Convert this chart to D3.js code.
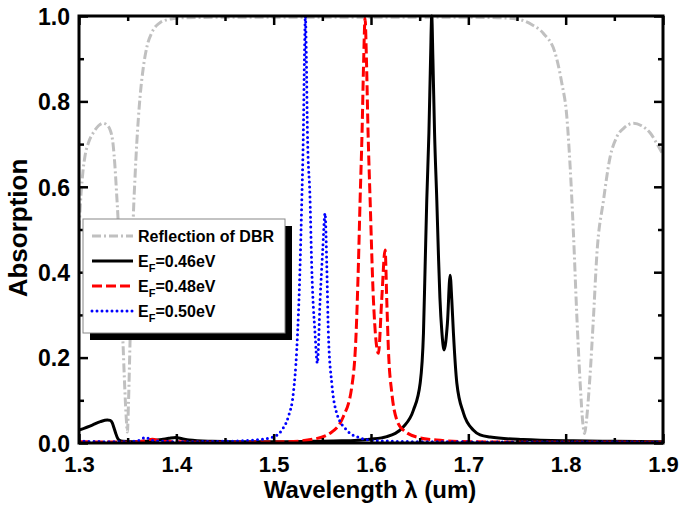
<!DOCTYPE html>
<html><head><meta charset="utf-8">
<script src="https://cdn.jsdelivr.net/npm/d3@7/dist/d3.min.js"></script>
<style>body{margin:0;background:#fff}svg{display:block}text{font-family:"Liberation Sans",Arial,sans-serif;font-weight:bold}</style>
</head><body><svg id="c" width="686" height="511"></svg>
<script>
// ---------- data ----------
const dbrWl = [1.300,1.302,1.304,1.306,1.310,1.3145,1.320,1.3247,1.328,1.332,1.335,1.337,1.3385,1.340,1.342,1.3435,1.3452,1.347,1.3485,1.3497,1.3508,1.3524,1.354,1.3558,1.3575,1.3593,1.361,1.3627,1.3661,1.370,1.375,1.383,1.390,1.397,1.410,1.450,1.500,1.550,1.600,1.650,1.700,1.730,1.7498,1.765,1.7772,1.7892,1.7961,1.8012,1.8046,1.808,1.8115,1.8149,1.8176,1.8195,1.8211,1.8245,1.8286,1.832,1.8389,1.8457,1.8526,1.860,1.8697,1.878,1.8869,1.894,1.900];
const dbrR  = [0.50,0.58,0.635,0.67,0.705,0.726,0.743,0.749,0.746,0.733,0.70,0.646,0.59,0.53,0.42,0.33,0.234,0.13,0.06,0.026,0.09,0.234,0.38,0.53,0.62,0.70,0.76,0.81,0.88,0.93,0.962,0.984,0.991,0.994,0.996,0.997,0.997,0.997,0.997,0.997,0.997,0.996,0.993,0.98,0.959,0.913,0.842,0.764,0.647,0.49,0.296,0.14,0.047,0.022,0.047,0.14,0.296,0.44,0.569,0.67,0.717,0.738,0.749,0.743,0.726,0.70,0.675];

const ef046Wl = [1.300,1.3137,1.322,1.3291,1.332,1.3342,1.336,1.3377,1.3395,1.3411,1.345,1.355,1.370,1.385,1.3925,1.3994,1.406,1.413,1.4367,1.460,1.500,1.540,1.570,1.5991,1.6162,1.6333,1.6436,1.6505,1.6539,1.6556,1.6573,1.6595,1.6612,1.6624,1.6636,1.6653,1.6676,1.6693,1.6708,1.6728,1.6751,1.6785,1.6813,1.6830,1.6847,1.6882,1.6950,1.7053,1.7121,1.7224,1.7563,1.8077,1.850,1.900];
const ef046A  = [0.030,0.042,0.050,0.054,0.053,0.047,0.035,0.023,0.012,0.007,0.004,0.003,0.004,0.008,0.011,0.013,0.010,0.007,0.004,0.003,0.003,0.004,0.005,0.009,0.015,0.038,0.077,0.14,0.257,0.413,0.569,0.726,0.90,1.0,0.90,0.726,0.569,0.44,0.34,0.26,0.218,0.28,0.393,0.335,0.257,0.14,0.07,0.03,0.019,0.014,0.008,0.005,0.004,0.003];

const ef048Wl = [1.300,1.350,1.365,1.3753,1.385,1.420,1.470,1.5134,1.5408,1.558,1.5716,1.5803,1.5847,1.587,1.5888,1.5908,1.5925,1.5939,1.5953,1.597,1.5991,1.6025,1.6076,1.611,1.6145,1.6162,1.6179,1.6214,1.6265,1.6333,1.6505,1.6676,1.7018,1.750,1.900];
const ef048A  = [0.003,0.002,0.004,0.009,0.004,0.002,0.002,0.003,0.009,0.023,0.062,0.132,0.257,0.413,0.569,0.726,0.90,0.995,0.90,0.726,0.569,0.335,0.21,0.335,0.452,0.335,0.218,0.117,0.054,0.03,0.012,0.007,0.003,0.002,0.002];

const ef050Wl = [1.300,1.340,1.360,1.3685,1.375,1.400,1.450,1.4757,1.4994,1.5083,1.5151,1.5202,1.5237,1.5271,1.5289,1.5305,1.5316,1.5326,1.5336,1.5347,1.5374,1.5391,1.5425,1.5449,1.5477,1.5504,1.5528,1.5546,1.5562,1.5597,1.5648,1.5751,1.5888,1.6022,1.650,1.900];
const ef050A  = [0.004,0.003,0.005,0.013,0.006,0.003,0.004,0.006,0.014,0.03,0.062,0.117,0.218,0.413,0.569,0.726,0.90,1.0,0.90,0.726,0.569,0.413,0.257,0.187,0.335,0.452,0.538,0.413,0.257,0.14,0.07,0.03,0.012,0.006,0.003,0.002];

const xMajorTicks = [1.3,1.4,1.5,1.6,1.7,1.8,1.9];
const yMajorTicks = [0.0,0.2,0.4,0.6,0.8,1.0];
const legendLabels = ["Reflection of DBR","0.46eV","0.48eV","0.50eV"];
const xTitle = "Wavelength λ (um)";
const yTitle = "Absorption";

// ---------- chart ----------
const L=79,R=663,T=16,B=443;
const svg=d3.select("#c");
const x=d3.scaleLinear().domain([1.3,1.9]).range([L,R]);
const y=d3.scaleLinear().domain([0,1]).range([B,T]);

svg.append("defs").append("clipPath").attr("id","clip")
  .append("rect").attr("x",L).attr("y",T-2).attr("width",R-L).attr("height",B-T+2);

const series=[
  {wl:dbrWl,v:dbrR,color:"#c0c0c0",dash:"9,3,2,3",cap:"butt",w:3},
  {wl:ef046Wl,v:ef046A,color:"#000",dash:null,cap:"butt",w:3},
  {wl:ef048Wl,v:ef048A,color:"#ff0000",dash:"10,4",cap:"butt",w:3},
  {wl:ef050Wl,v:ef050A,color:"#0000ff",dash:"0,5",cap:"round",w:3}
];
const line=d3.line().x(d=>x(d[0])).y(d=>y(d[1])).curve(d3.curveMonotoneX);
const g=svg.append("g").attr("clip-path","url(#clip)");
series.forEach(s=>{
  g.append("path").datum(s.wl.map((w,i)=>[w,s.v[i]]))
   .attr("d",line).attr("fill","none").attr("stroke",s.color)
   .attr("stroke-width",s.w).attr("stroke-dasharray",s.dash).attr("stroke-linecap",s.cap)
   .attr("stroke-linejoin","round");
});

// axes with inward ticks
const xMinor=d3.range(1.35,1.9,0.1);
const yMinor=d3.range(0.1,1.0,0.2);
function axisGen(axis,scale,major,minor,fmt){
  return {major:axis(scale).tickValues(major).tickSize(-9).tickFormat(fmt),
          minor:axis(scale).tickValues(minor).tickSize(-5).tickFormat("")};
}
const ax=[
  [d3.axisBottom,x,xMajorTicks,xMinor,d3.format(".1f"),`translate(0,${B})`],
  [d3.axisTop,x,xMajorTicks,xMinor,"",`translate(0,${T})`],
  [d3.axisLeft,y,yMajorTicks,yMinor,d3.format(".1f"),`translate(${L},0)`],
  [d3.axisRight,y,yMajorTicks,yMinor,"",`translate(${R},0)`]
];
ax.forEach(([a,sc,maj,mn,fmt,tr],i)=>{
  const ag=axisGen(a,sc,maj,mn,fmt);
  const g1=svg.append("g").attr("transform",tr).call(ag.major);
  const g2=svg.append("g").attr("transform",tr).call(ag.minor);
  [g1,g2].forEach(gg=>{gg.select(".domain").remove();gg.selectAll("line").attr("stroke","#000").attr("stroke-width",2.5);});
  g1.selectAll("text").attr("fill","#000").style("font-size","22px").style("font-weight","bold");
  if(i===0) g1.selectAll("text").attr("y",29).attr("dy",null);
  if(i===2) g1.selectAll("text").attr("x",-9).attr("dy","0.36em").style("font-size","23px");
});
svg.append("rect").attr("x",L).attr("y",T).attr("width",R-L).attr("height",B-T)
  .attr("fill","none").attr("stroke","#000").attr("stroke-width",3);

// titles
svg.append("text").attr("x",370).attr("y",498).attr("text-anchor","middle")
  .style("font-size","24px").text(xTitle);
svg.append("text").attr("transform","translate(27,228) rotate(-90)").attr("text-anchor","middle")
  .style("font-size","26px").text(yTitle);

// legend
const lg=svg.append("g");
lg.append("rect").attr("x",90).attr("y",226).attr("width",202).attr("height",114).attr("fill","#000");
lg.append("rect").attr("x",83).attr("y",219).attr("width",202).attr("height",114).attr("fill","#fff").attr("stroke","#888").attr("stroke-width",1);
const rows=[236,261,286,311];
series.forEach((s,i)=>{
  lg.append("line").attr("x1",92).attr("x2",133).attr("y1",rows[i]).attr("y2",rows[i])
    .attr("stroke",s.color).attr("stroke-width",s.w).attr("stroke-dasharray",s.dash).attr("stroke-linecap",s.cap);
  const t=lg.append("text").attr("x",138).attr("y",rows[i]+6).style("font-size","16px");
  if(i===0){t.text(legendLabels[0]);}
  else{
    t.append("tspan").text("E");
    t.append("tspan").attr("dy",5).style("font-size","11px").text("F");
    t.append("tspan").attr("dy",-5).text("="+legendLabels[i]);
  }
});
</script></body></html>
